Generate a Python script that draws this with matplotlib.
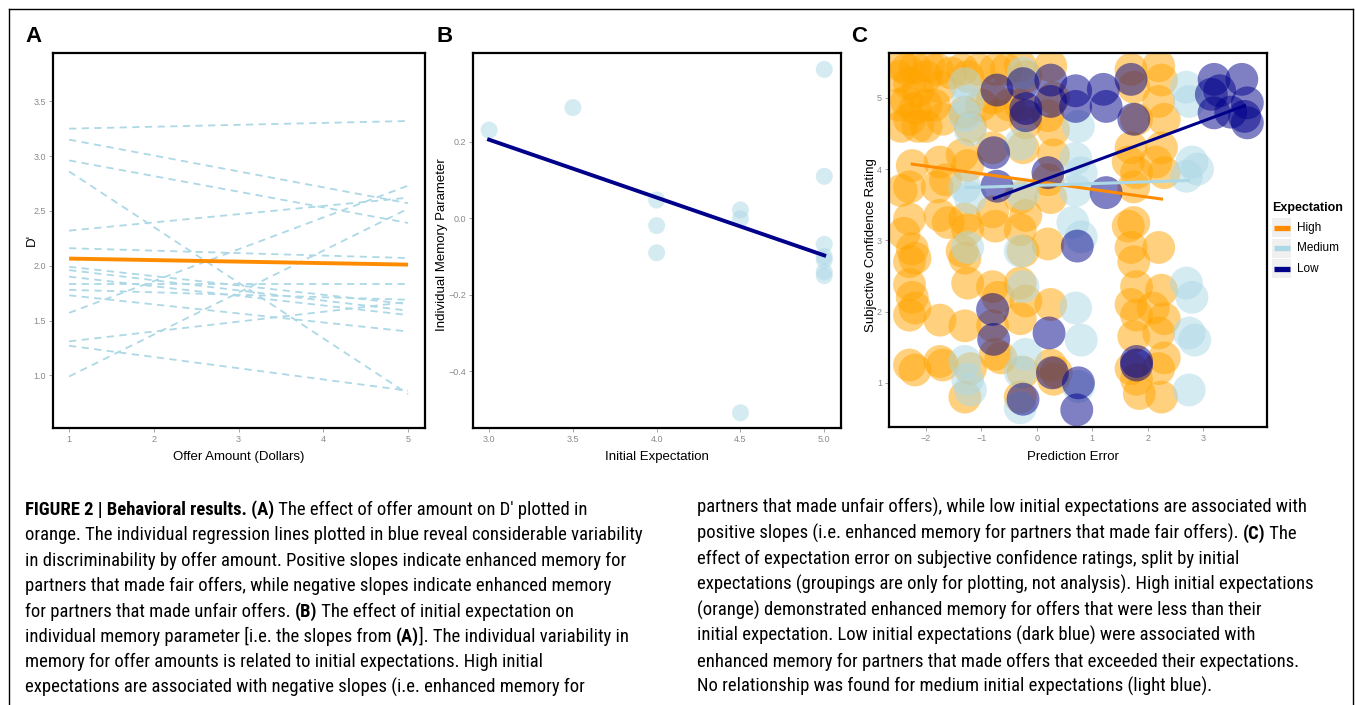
import matplotlib.pyplot as plt
from matplotlib import font_manager
from matplotlib.lines import Line2D
from matplotlib.patches import Rectangle

# ---- data ----
# A: individual regression lines (value at offer $1 and $5) and the group line
offer_ends = [1, 5]
indiv_start = [3.25, 3.15, 2.96, 2.86, 2.32, 2.16, 1.99, 1.96, 1.90, 1.83,
               1.78, 1.73, 1.57, 1.31, 1.27, 0.99]
indiv_end = [3.32, 2.57, 2.39, 0.83, 2.62, 2.07, 1.65, 1.59, 1.55, 1.83,
             1.69, 1.40, 2.73, 1.67, 0.86, 2.52]
group_line = [2.065, 2.01]

# B: initial expectation vs individual memory parameter
expect_x = [3.0, 3.5, 4.0, 4.0, 4.0, 4.5, 4.5, 4.5,
            5.0, 5.0, 5.0, 5.0, 5.0, 5.0, 5.0]
memory_y = [0.231, 0.290, 0.048, -0.019, -0.090, 0.022, -0.001, -0.509,
            0.390, 0.110, -0.068, -0.100, -0.109, -0.140, -0.150]
fit_x = [3.0, 5.0]
fit_y = [0.206, -0.097]

# C: prediction error vs confidence rating, split by expectation
high_x = [-2.35, -2.2, -2.3, -2.15, -2.35, -2.2, -2.3, -2.15, -2.45,
          -2.5, -2.5, -2.0, -2.0, -2.0, -2.45, -1.95,
          -2.25, -2.3, -2.45, -2.3, -2.4, -2.25, -2.2, -2.3, -2.3, -2.25, -2.2, -2.3, -2.3, -2.2,
          -1.8, -1.75, -1.85, -1.7, -1.75, -1.8, -1.65, -1.75, -1.6, -1.75, -1.75, -1.7,
          -1.55, -1.05, -1.0, -0.55, -0.5,
          -1.35, -1.25, -1.3, -1.2, -1.35, -1.25, -1.3, -1.25, -1.35, -1.3, -1.25, -1.3, -1.3, -1.2,
          -0.75, -0.8, -0.7, -0.8, -0.8, -0.75, -0.8, -0.7, -0.8, -0.75, -0.65,
          -0.3, -0.2, -0.3, -0.2, -0.25, -0.3, -0.2, -0.3, -0.25, -0.3, -0.2, -0.3, -0.25, -0.3,
          0.25, 0.3, 0.2, 0.3, 0.3, 0.2, 0.25, 0.2, 0.25, 0.25, 0.3, 0.35,
          1.7, 1.75, 1.8, 1.7, 1.65, 1.8, 1.75, 1.75, 1.65, 1.7, 1.75, 1.8, 1.7, 1.8, 1.75, 1.7, 1.8, 1.85,
          2.2, 2.25, 2.2, 2.3, 2.25, 2.15, 2.3, 2.2, 2.25, 2.1, 2.3, 2.2, 2.3, 2.2, 2.25]
high_y = [5.40, 5.42, 5.2, 5.1, 4.95, 4.85, 4.7, 4.6, 4.6,
          5.3, 4.9, 5.3, 4.9, 4.6, 5.45, 5.45,
          4.05, 3.75, 3.7, 3.3, 3.1, 2.88, 2.75, 2.7, 2.38, 2.2, 2.05, 1.95, 1.25, 1.18,
          5.4, 5.15, 4.9, 4.7, 4.1, 3.75, 3.85, 3.35, 3.25, 1.88, 1.3, 1.25,
          5.35, 5.4, 4.9, 5.4, 4.9,
          5.4, 5.3, 4.8, 4.6, 4.2, 4.05, 3.3, 3.15, 2.85, 2.75, 2.4, 1.8, 0.8, 1.2,
          5.4, 5.0, 4.75, 4.3, 3.4, 3.2, 2.35, 2.2, 1.8, 1.4, 1.35,
          5.45, 5.3, 4.9, 4.65, 4.3, 3.6, 3.35, 3.15, 2.85, 2.4, 2.15, 1.9, 1.15, 0.8,
          5.45, 5.0, 4.75, 4.55, 4.2, 3.85, 3.6, 2.95, 2.1, 1.25, 1.05, 1.15,
          5.4, 5.15, 4.7, 4.3, 4.1, 3.95, 3.75, 3.25, 3.2, 2.9, 2.7, 2.35, 2.1, 1.95, 1.65, 1.2, 1.05, 0.85,
          5.45, 5.25, 4.95, 4.7, 4.3, 4.1, 3.95, 2.9, 2.3, 2.05, 1.9, 1.7, 1.35, 1.2, 0.8]
med_x = [-1.3, -1.25, -1.3, -1.2, -1.3, -1.2, -1.25, -1.3, -1.25, -1.2,
         -0.25, -0.3, -0.25, -0.3, -0.25, -0.3, -0.3, -0.2,
         0.75, 0.7, 0.8, 0.7, 0.65, 0.8, 0.7, 0.8, 0.75,
         2.7, 2.75, 2.8, 2.9, 2.7, 2.7, 2.8, 2.75, 2.85, 2.75]
med_y = [5.2, 4.95, 4.75, 4.55, 3.75, 3.6, 2.9, 1.3, 1.05, 0.9,
         5.35, 4.35, 3.65, 2.85, 2.35, 1.15, 0.65, 1.4,
         4.6, 4.15, 3.95, 3.7, 3.25, 3.05, 2.05, 1.6, 0.95,
         5.15, 4.95, 4.1, 4.0, 3.9, 2.4, 2.2, 1.7, 1.6, 0.9]
low_x = [-0.72, -0.78, -0.72, -0.8, -0.78,
         -0.25, -0.2, -0.2,
         0.25, 0.25, 0.2, 0.22, 0.28,
         0.7, 0.7, 0.73, 0.75, 0.72,
         1.2, 1.25, 1.25,
         1.7, 1.75, 1.8, 1.8,
         -0.25,
         3.2, 3.15, 3.2, 3.3,
         3.7, 3.8, 3.75, 3.8, 3.5]
low_y = [5.11, 4.23, 3.76, 2.03, 1.61,
         5.2, 4.85, 4.75,
         5.25, 4.95, 3.95, 1.7, 1.14,
         5.1, 4.88, 2.92, 1.0, 0.62,
         5.12, 4.88, 3.67,
         5.26, 4.7, 1.3, 1.25,
         0.77,
         5.26, 5.05, 4.79, 5.1,
         5.26, 4.93, 4.74, 4.65, 4.8]
fit_high = ([-2.25, 2.25], [4.07, 3.58])
fit_med = ([-1.27, 2.74], [3.74, 3.84])
fit_low = ([-0.77, 3.75], [3.59, 4.89])

groups = ['High', 'Medium', 'Low']
colors = {'High': 'orange', 'Medium': 'lightblue', 'Low': 'darkblue'}
line_colors = {'High': 'darkorange', 'Medium': 'lightblue', 'Low': 'darkblue'}

# ---- figure ----
W, H = 1355, 705
fig = plt.figure(figsize=(W / 100, H / 100), dpi=100)

lab_font = ['Liberation Sans', 'DejaVu Sans']

# caption is set in a condensed face in the reference; use one with a bold cut if installed
weights = {}
for f in font_manager.fontManager.ttflist:
    if 'Narrow' in f.name or 'Condensed' in f.name:
        w = f.weight if isinstance(f.weight, int) else font_manager.weight_dict.get(f.weight, 400)
        weights.setdefault(f.name, set()).add(w)
usable = [n for n, ws in weights.items() if max(ws) >= 600 and min(ws) <= 450]
cap_family = 'Liberation Sans'
for pref in ['Liberation Sans Narrow', 'Roboto Condensed', 'Open Sans Condensed',
             'DejaVu Sans Condensed']:
    if pref in usable:
        cap_family = pref
        break
else:
    if usable:
        cap_family = sorted(usable)[0]


def px_axes(x0, y0, x1, y1):
    return fig.add_axes([x0 / W, 1 - y1 / H, (x1 - x0) / W, (y1 - y0) / H])


def style(ax):
    for s in ax.spines.values():
        s.set_linewidth(1.6)
        s.set_color('black')
    ax.tick_params(direction='out', length=3, width=0.6, color='#999999',
                   labelcolor='#8a8a8a', labelsize=6.5, pad=2)
    for lab in ax.get_xticklabels() + ax.get_yticklabels():
        lab.set_family(lab_font)


def ftext(x, y, s, **kw):
    return fig.text(x / W, 1 - y / H, s, **kw)


# outer frame
fig.add_artist(Line2D([9 / W, 9 / W], [0, 1 - 9 / H], transform=fig.transFigure, color='black', lw=1.0))
fig.add_artist(Line2D([9 / W, 1353 / W], [1 - 9 / H, 1 - 9 / H], transform=fig.transFigure, color='black', lw=1.0))
fig.add_artist(Line2D([1353 / W, 1353 / W], [0, 1 - 9 / H], transform=fig.transFigure, color='black', lw=1.0))

# panel A
axA = px_axes(53, 53, 425, 428)
for s, e in zip(indiv_start, indiv_end):
    axA.plot(offer_ends, [s, e], color='lightblue', lw=1.3, dashes=(4, 3))
axA.plot(offer_ends, group_line, color='darkorange', lw=2.8, solid_capstyle='butt')
axA.set_xlim(0.81, 5.2)
axA.set_ylim(0.52, 3.94)
axA.set_xticks([1, 2, 3, 4, 5])
axA.set_yticks([1.0, 1.5, 2.0, 2.5, 3.0, 3.5])
style(axA)

# panel B
axB = px_axes(473, 53, 841, 428)
axB.scatter(expect_x, memory_y, s=150, color='lightblue', alpha=0.5, edgecolors='none')
axB.plot(fit_x, fit_y, color='darkblue', lw=2.8)
axB.set_xlim(2.904, 5.10)
axB.set_ylim(-0.549, 0.433)
axB.set_xticks([3.0, 3.5, 4.0, 4.5, 5.0])
axB.set_yticks([-0.4, -0.2, 0.0, 0.2])
style(axB)

# panel C
axC = px_axes(889, 53, 1267, 427)
pts = {'High': (high_x, high_y), 'Medium': (med_x, med_y), 'Low': (low_x, low_y)}
fits = {'High': fit_high, 'Medium': fit_med, 'Low': fit_low}
for g in groups:
    axC.scatter(pts[g][0], pts[g][1], s=560, color=colors[g], alpha=0.5, edgecolors='none')
for g in groups:
    axC.plot(fits[g][0], fits[g][1], color=line_colors[g], lw=2.2)
axC.set_xlim(-2.67, 4.155)
axC.set_ylim(0.38, 5.63)
axC.set_xticks([-2, -1, 0, 1, 2, 3])
axC.set_yticks([1, 2, 3, 4, 5])
style(axC)

# panel letters and axis labels
for x, letter in [(25, 'A'), (437, 'B'), (851, 'C')]:
    ftext(x, 36, letter, fontsize=16, fontweight='bold', family=lab_font, va='center')
ftext(239, 457, 'Offer Amount (Dollars)', fontsize=9.5, family=lab_font, ha='center', va='center')
ftext(657, 457, 'Initial Expectation', fontsize=9.5, family=lab_font, ha='center', va='center')
ftext(1073, 457, 'Prediction Error', fontsize=9.5, family=lab_font, ha='center', va='center')
ftext(32, 240, "D'", fontsize=9.5, family=lab_font, rotation=90, ha='center', va='center')
ftext(442, 245, 'Individual Memory Parameter', fontsize=9.5, family=lab_font, rotation=90, ha='center', va='center')
ftext(871, 245, 'Subjective Confidence Rating', fontsize=9.5, family=lab_font, rotation=90, ha='center', va='center')

# legend for C
ftext(1272, 208, 'Expectation', fontsize=9, fontweight='bold', family=lab_font, va='center')
for i, g in enumerate(groups):
    yc = 227.5 + 20.7 * i
    fig.add_artist(Rectangle((1272 / W, 1 - (yc + 9.5) / H), 19 / W, 19 / H,
                             transform=fig.transFigure, facecolor='#f0f0f0', edgecolor='none'))
    fig.add_artist(Line2D([1273.5 / W, 1289.5 / W], [1 - yc / H, 1 - yc / H],
                          transform=fig.transFigure, color=line_colors[g], lw=3.8, solid_capstyle='butt'))
    ftext(1297, yc, g, fontsize=8.5, family=lab_font, va='center')

# caption
left_lines = [
    [('FIGURE 2 | Behavioral results. (A)', True), (' The effect of offer amount on D\u2032 plotted in', False)],
    [('orange. The individual regression lines plotted in blue reveal considerable variability', False)],
    [('in discriminability by offer amount. Positive slopes indicate enhanced memory for', False)],
    [('partners that made fair offers, while negative slopes indicate enhanced memory', False)],
    [('for partners that made unfair offers. ', False), ('(B)', True), (' The effect of initial expectation on', False)],
    [('individual memory parameter [i.e. the slopes from ', False), ('(A)', True), (']. The individual variability in', False)],
    [('memory for offer amounts is related to initial expectations. High initial', False)],
    [('expectations are associated with negative slopes (i.e. enhanced memory for', False)],
]
right_lines = [
    [('partners that made unfair offers), while low initial expectations are associated with', False)],
    [('positive slopes (i.e. enhanced memory for partners that made fair offers). ', False), ('(C)', True), (' The', False)],
    [('effect of expectation error on subjective confidence ratings, split by initial', False)],
    [('expectations (groupings are only for plotting, not analysis). High initial expectations', False)],
    [('(orange) demonstrated enhanced memory for offers that were less than their', False)],
    [('initial expectation. Low initial expectations (dark blue) were associated with', False)],
    [('enhanced memory for partners that made offers that exceeded their expectations.', False)],
    [('No relationship was found for medium initial expectations (light blue).', False)],
]

renderer = fig.canvas.get_renderer()
cap_kw = dict(family=[cap_family, 'DejaVu Sans'], va='baseline', color='black')

# size the caption so its longest line spans the same width as in the reference
probe = ftext(25, 600, left_lines[1][0][0], fontsize=10, **cap_kw)
bb = probe.get_window_extent(renderer)
cap_size = min(13.5, 10 * 612 / bb.width)
probe.remove()


def rich_line(x, y, pieces):
    for txt, bold in pieces:
        t = ftext(x, y, txt, fontsize=cap_size, fontweight='bold' if bold else 'normal', **cap_kw)
        x = t.get_window_extent(renderer).x1


for i, pieces in enumerate(left_lines):
    rich_line(25, 515 + 25.4 * i, pieces)
for i, pieces in enumerate(right_lines):
    rich_line(697, 513 + 25.6 * i, pieces)

fig.savefig('out.png', dpi=100)
